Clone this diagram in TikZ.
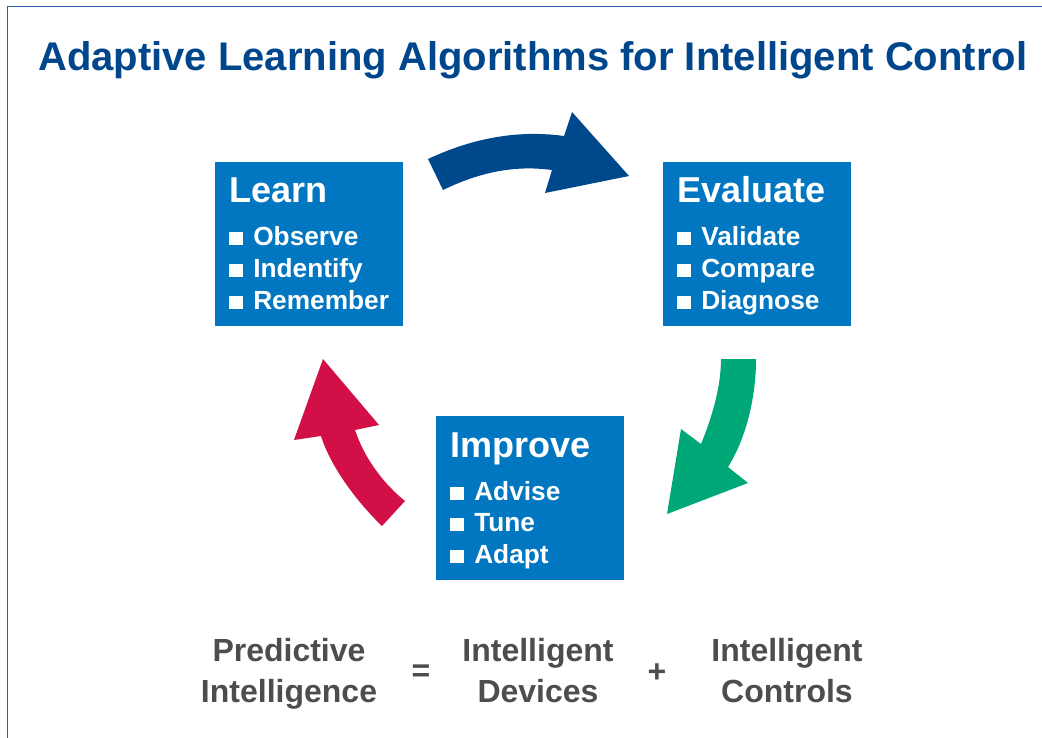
\documentclass[tikz,border=0pt]{standalone}
\usepackage{fontspec}
\setmainfont{Liberation Sans}
\definecolor{titleblue}{RGB}{0,70,140}
\definecolor{boxblue}{RGB}{0,119,192}
\definecolor{arrowblue}{RGB}{0,72,140}
\definecolor{arrowgreen}{RGB}{0,168,120}
\definecolor{arrowred}{RGB}{210,15,70}
\definecolor{textgray}{RGB}{77,77,77}
\definecolor{framecol}{RGB}{40,100,170}
\newcommand\sqb{\rule{10pt}{9.5pt}\hspace{8pt}}
\begin{document}
\begin{tikzpicture}[x=0.75pt,y=-0.75pt,
  box/.style={fill=boxblue, inner sep=0pt, minimum width=141pt, minimum height=123pt, anchor=north west},
  boxtitle/.style={anchor=base west, text=white, font=\bfseries\fontsize{27}{32}\selectfont, inner sep=0pt},
  item/.style={anchor=base west, text=white, font=\bfseries\fontsize{19.7}{23}\selectfont, inner sep=0pt},
  eq/.style={anchor=base, text=textgray, font=\bfseries\fontsize{24}{28}\selectfont, inner sep=0pt},
  op/.style={anchor=center, text=textgray, font=\bfseries\fontsize{24}{28}\selectfont, inner sep=0pt},
]
\useasboundingbox[fill=white] (0,0) rectangle (1042,738);
% frame
\draw[framecol, line width=1.4pt] (7.5,738) -- (7.5,6.5) -- (1042,6.5);
% title
\node[anchor=base west, inner sep=0pt, text=titleblue, font=\bfseries\fontsize{30}{36}\selectfont] (title) at (38,71) {Adaptive Learning Algorithms for Intelligent Control};
% boxes
\node[box] (learn) at (215,162) {};
\node[box] (evaluate) at (663,162) {};
\node[box] (improve) at (436,416) {};
% learn text
\node[boxtitle] (learnT) at (229,203) {Learn};
\node[item] (learn1) at (229,245) {\sqb Observe};
\node[item] (learn2) at (229,277) {\sqb Indentify};
\node[item] (learn3) at (229,309) {\sqb Remember};
% evaluate text
\node[boxtitle] (evalT) at (677,203) {Evaluate};
\node[item] (eval1) at (677,245) {\sqb Validate};
\node[item] (eval2) at (677,277) {\sqb Compare};
\node[item] (eval3) at (677,309) {\sqb Diagnose};
% improve text
\node[boxtitle] (impT) at (450,457) {Improve};
\node[item] (imp1) at (450,500) {\sqb Advise};
\node[item] (imp2) at (450,531) {\sqb Tune};
\node[item] (imp3) at (450,563) {\sqb Adapt};
% arrows
\fill[arrowblue] (428,159) .. controls (475,137) and (520,130) .. (564,136)
  -- (572,112) -- (629,176) -- (545,193) -- (552,170)
  .. controls (515,165) and (480,172) .. (443,190) -- cycle;
\fill[arrowgreen] (721,359) -- (756,359) .. controls (756,400) and (745,440) .. (728,467)
  -- (748,483) -- (667,514) -- (681,429) -- (701,444)
  .. controls (713,415) and (721,385) .. (721,359) -- cycle;
\fill[arrowred] (323,359) -- (379,425) -- (355,430) .. controls (365,460) and (385,485) .. (405,501)
  -- (382,526) .. controls (355,500) and (330,465) .. (321,436) -- (294,440) -- cycle;
% equation
\node[eq] (pred1) at (289,661) {Predictive};
\node[eq] (pred2) at (289,702) {Intelligence};
\node[op] (equals) at (421,673) {=};
\node[eq] (dev1) at (538,661) {Intelligent};
\node[eq] (dev2) at (538,702) {Devices};
\node[op] (plus) at (657,673) {+};
\node[eq] (ctl1) at (787,661) {Intelligent};
\node[eq] (ctl2) at (787,702) {Controls};
\end{tikzpicture}
\end{document}
